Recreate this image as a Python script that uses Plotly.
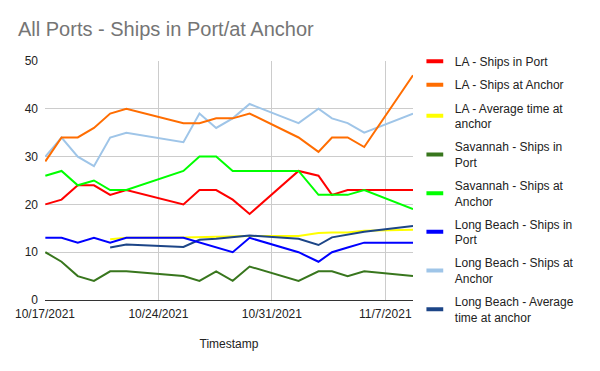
import plotly.graph_objects as go

timestamps = [
    "2021-10-17 00:30", "2021-10-18 00:30", "2021-10-19 00:30", "2021-10-20 00:30",
    "2021-10-21 00:30", "2021-10-22 00:30", "2021-10-25 13:00", "2021-10-26 12:45",
    "2021-10-27 13:30", "2021-10-28 14:00", "2021-10-29 15:00", "2021-11-01 15:30",
    "2021-11-02 21:00", "2021-11-03 17:00", "2021-11-04 16:15", "2021-11-05 16:45",
    "2021-11-08 17:00",
]

la_port = [20, 21, 24, 24, 22, 23, 20, 23, 23, 21, 18, 27, 26, 22, 23, 23, 23]
la_anchor = [29, 34, 34, 36, 39, 40, 37, 37, 38, 38, 39, 34, 31, 34, 34, 32, 47]
la_avg_time = [None, None, None, None, 12.7, 13.0, 13.1, 13.2, 13.3, 13.3, 13.4, 13.4, 14.0, 14.1, 14.1, 14.5, 14.7]
sav_port = [10, 8, 5, 4, 6, 6, 5, 4, 6, 4, 7, 4, 6, 6, 5, 6, 5]
sav_anchor = [26, 27, 24, 25, 23, 23, 27, 30, 30, 27, 27, 27, 22, 22, 22, 23, 19]
lb_port = [13, 13, 12, 13, 12, 13, 13, 12, 11, 10, 13, 10, 8, 10, 11, 12, 12]
lb_anchor = [30, 34, 30, 28, 34, 35, 33, 39, 36, 38, 41, 37, 40, 38, 37, 35, 39]
lb_avg_time = [None, None, None, None, 11.0, 11.6, 11.1, 12.6, 12.8, 13.2, 13.5, 12.8, 11.5, 13.1, 13.7, 14.3, 15.5]

series = [
    ("LA - Ships in Port", la_port, "#ff0000"),
    ("LA - Ships at Anchor", la_anchor, "#ff6d01"),
    ("LA - Average time at<br>anchor", la_avg_time, "#ffff00"),
    ("Savannah - Ships in<br>Port", sav_port, "#38761d"),
    ("Savannah - Ships at<br>Anchor", sav_anchor, "#00ff00"),
    ("Long Beach - Ships in<br>Port", lb_port, "#0000ff"),
    ("Long Beach - Ships at<br>Anchor", lb_anchor, "#9fc5e8"),
    ("Long Beach - Average<br>time at anchor", lb_avg_time, "#1c4587"),
]

fig = go.Figure()
draw_order = [2, 7, 3, 5, 0, 4, 6, 1]
for i in draw_order:
    name, vals, color = series[i]
    fig.add_trace(go.Scatter(
        x=timestamps, y=vals, mode="lines", name=name,
        line=dict(color=color, width=2), showlegend=False, hoverinfo="skip",
    ))
for i, (name, vals, color) in enumerate(series):
    fig.add_trace(go.Scatter(
        x=[None], y=[None], mode="markers", name=name, legendgroup=f"g{i}",
        legendrank=i + 1,
        marker=dict(symbol="line-ew", size=12, color=color, line=dict(color=color, width=4)),
    ))

font_family = "Arial, Liberation Sans, sans-serif"
fig.update_layout(
    width=600, height=371,
    margin=dict(l=45, r=187, t=61, b=71),
    paper_bgcolor="white", plot_bgcolor="white",
    font=dict(family=font_family, size=12, color="#222222"),
    title=dict(text="All Ports - Ships in Port/at Anchor", x=0.03, xanchor="left",
               y=0.922, yanchor="middle",
               font=dict(family=font_family, size=20, color="#757575")),
    legend=dict(x=1.005, xanchor="left", y=1.06, yanchor="top",
                traceorder="grouped", tracegroupgap=4.5, maxheight=360,
                font=dict(family=font_family, size=12, color="#222222"),
                bgcolor="rgba(0,0,0,0)"),
    xaxis=dict(
        type="date",
        range=["2021-10-17 00:00", "2021-11-08 17:00"],
        tickvals=["2021-10-17", "2021-10-24", "2021-10-31", "2021-11-07"],
        ticktext=["10/17/2021", "10/24/2021", "10/31/2021", "11/7/2021"],
        showgrid=True, gridcolor="#cccccc", gridwidth=1,
        showline=False, zeroline=False, ticks="", ticklabelstandoff=5,
        title=dict(text="Timestamp", font=dict(size=12, color="#222222"), standoff=19),
        tickfont=dict(size=12, color="#222222"),
    ),
    yaxis=dict(
        range=[0, 50], tickvals=[0, 10, 20, 30, 40, 50],
        showgrid=True, gridcolor="#cccccc", gridwidth=1,
        zeroline=True, zerolinecolor="#333333", zerolinewidth=1,
        showline=False, ticks="", ticklabelstandoff=6,
        tickfont=dict(size=12, color="#222222"),
    ),
)

fig.write_html("out.html")
